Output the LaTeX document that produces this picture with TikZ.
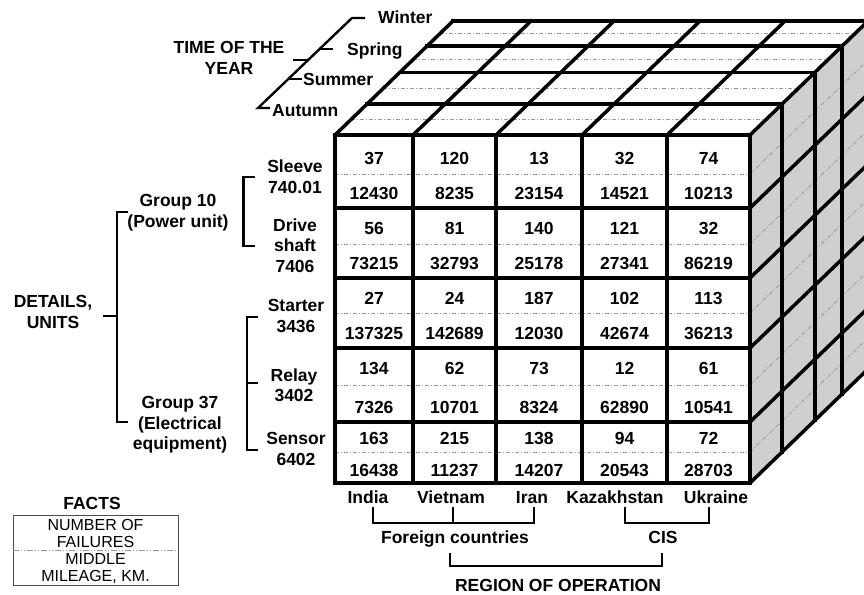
\documentclass[tikz,border=0pt]{standalone}
\usepackage{fontspec}
\setmainfont{Liberation Sans}
\newcommand\cellrow[4]{%
  \foreach \a/\b [count=\i from 0] in {#4}{%
    \pgfmathsetmacro\cx{{374,454.5,539,624.5,708.5}[\i]}%
    \node[lab] (c#1a\i) at (\cx,#2) {\a};
    \node[lab] (c#1b\i) at (\cx,#3) {\b};
  }}
\begin{document}
\begin{tikzpicture}[x=1pt,y=-1pt,
  lab/.style={font=\fontsize{17.5}{20}\selectfont\bfseries, inner sep=0pt, text height=12.5pt, text depth=0pt},
  leg/.style={font=\fontsize{16}{18}\selectfont, inner sep=0pt, text height=11.5pt, text depth=0pt},
  cubeline/.style={line width=3.5pt, line cap=rect, line join=miter},
  brk/.style={line width=2.4pt, line cap=butt, line join=miter},
  dd/.style={gray!80, line width=0.8pt, dash pattern=on 4pt off 2pt on 1pt off 2pt},
  ]
\useasboundingbox (0,0) rectangle (864,594);
\clip (0,0) rectangle (864,594);
% ---------- cube faces ----------
\fill[white] (335,135) -- (750,135) -- (868,21) -- (453,21) -- cycle;
\fill[gray!38] (750,135) -- (868,21) -- (868,369) -- (750,483) -- cycle;
\fill[white] (335,135) rectangle (750,483);
% dashed mid lines, top face
\foreach \t in {0.135,0.41,0.665,0.89}
  \draw[dd] ({335+118*\t},{135-114*\t}) -- ({750+118*\t},{135-114*\t});
% dashed mid lines, front and right faces
\foreach \y in {174,244,313,385,452}{
  \draw[dd] (335,\y) -- (750,\y);
  \draw[dd] (750,\y) -- (868,{\y-114});
}
% top face grid
\foreach \t in {0.27,0.55,0.78,1}
  \draw[cubeline] ({335+118*\t},{135-114*\t}) -- ({750+118*\t},{135-114*\t});
\foreach \x in {335,413,496,582,667,750}
  \draw[cubeline] (\x,135) -- ({\x+118},21);
% right face grid
\foreach \t in {0.27,0.55,0.78,1}
  \draw[cubeline] ({750+118*\t},{135-114*\t}) -- ({750+118*\t},{483-114*\t});
\foreach \y in {208,278,348,422,483}
  \draw[cubeline] (750,\y) -- (868,{\y-114});
% front face grid
\draw[cubeline] (335,135) rectangle (750,483);
\foreach \x in {413,496,582,667}
  \draw[cubeline] (\x,135) -- (\x,483);
\foreach \y in {208,278,348,422}
  \draw[cubeline] (335,\y) -- (750,\y);
% ---------- cell values ----------
\cellrow{1}{158}{193}{37/12430,120/8235,13/23154,32/14521,74/10213}
\cellrow{2}{228}{263}{56/73215,81/32793,140/25178,121/27341,32/86219}
\cellrow{3}{298}{333}{27/137325,24/142689,187/12030,102/42674,113/36213}
\cellrow{4}{368}{407}{134/7326,62/10701,73/8324,12/62890,61/10541}
\cellrow{5}{438}{470}{163/16438,215/11237,138/14207,94/20543,72/28703}
% ---------- time of the year ----------
\node[lab] (time1) at (229,47) {TIME OF THE};
\node[lab] (time2) at (229,68) {YEAR};
\node[lab,anchor=west] (winter) at (378,17.5) {Winter};
\node[lab,anchor=west] (spring) at (347,49) {Spring};
\node[lab,anchor=west] (summer) at (303,79) {Summer};
\node[lab,anchor=west] (autumn) at (272,110) {Autumn};
\draw[brk] (365,18) -- (352,18) -- (258,108) -- (270,108);
\draw[brk] (320,49) -- (333,49);
\draw[brk] (288,79) -- (302,79);
\draw[brk] (293,60) -- (308,60);
% ---------- details ----------
\node[lab] (det1) at (53,301) {DETAILS,};
\node[lab] (det2) at (53,322) {UNITS};
\draw[brk] (103,316) -- (117,316);
\draw[brk] (128,212) -- (117,212) -- (117,422) -- (128,422);
\node[lab] (g10a) at (178,200) {Group 10};
\node[lab] (g10b) at (178,221) {(Power unit)};
\node[lab] (g37a) at (180,402) {Group 37};
\node[lab] (g37b) at (180,423) {(Electrical};
\node[lab] (g37c) at (180,443) {equipment)};
\draw[brk] (255,177) -- (243.5,177) -- (243.5,246) -- (255,246);
\draw[brk] (258,317) -- (247,317) -- (247,450) -- (258,450);
\draw[brk] (247,383) -- (258,383);
\node[lab] (sl1) at (295,166) {Sleeve};
\node[lab] (sl2) at (295,187) {740.01};
\node[lab] (dr1) at (295,225) {Drive};
\node[lab] (dr2) at (295,245) {shaft};
\node[lab] (dr3) at (295,266) {7406};
\node[lab] (st1) at (296,305) {Starter};
\node[lab] (st2) at (296,326) {3436};
\node[lab] (re1) at (294,375) {Relay};
\node[lab] (re2) at (294,395) {3402};
\node[lab] (se1) at (296,438) {Sensor};
\node[lab] (se2) at (296,459) {6402};
% ---------- region ----------
\node[lab] (india) at (368,497) {India};
\node[lab] (vietnam) at (451,497) {Vietnam};
\node[lab] (iran) at (532,497) {Iran};
\node[lab] (kaz) at (615,497) {Kazakhstan};
\node[lab] (ukr) at (716,497) {Ukraine};
\draw[brk] (373,507) -- (373,523) -- (534,523) -- (534,507);
\draw[brk] (453,507) -- (453,523);
\draw[brk] (625,507) -- (625,523) -- (709,523) -- (709,507);
\node[lab] (foreign) at (455,537) {Foreign countries};
\node[lab] (cis) at (663,537) {CIS};
\draw[brk] (450,553) -- (450,566) -- (662,566) -- (662,553);
\node[lab] (region) at (558,585) {REGION OF OPERATION};
% ---------- legend ----------
\node[lab] (facts) at (92,503) {FACTS};
\draw[line width=1pt, gray!60!black] (13,515) rectangle (178,585);
\draw[gray!80, line width=0.8pt, dash pattern=on 6pt off 2pt on 1pt off 2pt on 1pt off 2pt] (13,550) -- (178,550);
\node[leg] (l1) at (95.5,525) {NUMBER OF};
\node[leg] (l2) at (95.5,542) {FAILURES};
\node[leg] (l3) at (95.5,559) {MIDDLE};
\node[leg] (l4) at (95.5,576) {MILEAGE, KM.};
\end{tikzpicture}
\end{document}
